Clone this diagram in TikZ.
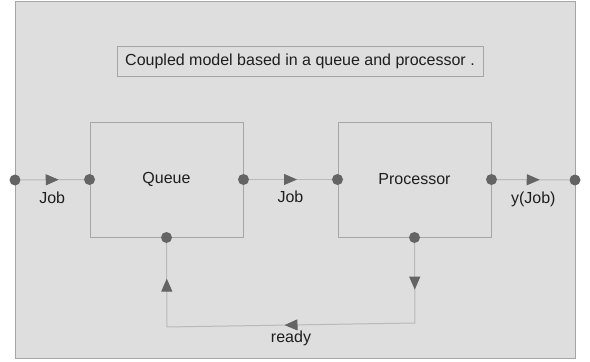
\documentclass[tikz,border=0pt]{standalone}
\usepackage{fontspec}
\setmainfont{Liberation Sans}
\usetikzlibrary{arrows.meta, positioning, decorations.markings}
\definecolor{panelGray}{RGB}{222,222,222}
\definecolor{frameGray}{RGB}{165,165,165}
\definecolor{wireGray}{RGB}{185,185,185}
\definecolor{portGray}{RGB}{100,100,100}
\definecolor{textGray}{RGB}{30,30,30}

\begin{document}
\begin{tikzpicture}[x=1pt,y=-1pt,font=\fontsize{16}{19}\selectfont,text=textGray,
  block/.style={draw=frameGray,line width=1pt,minimum width=153pt,minimum height=115pt,inner sep=0pt},
  port/.style={circle,fill=portGray,inner sep=0pt,minimum size=11pt},
  wire/.style={draw=wireGray,line width=1pt,postaction={decorate},
    decoration={markings,mark=at position 0.5 with
      {\arrow[portGray,xshift=6.5pt]{Triangle[length=13pt,width=11pt]}}}}]
  \useasboundingbox (0,0) rectangle (590,362);
  \fill[white] (0,0) rectangle (590,362);
  \draw[fill=panelGray,draw=frameGray,line width=1pt] (15,1.5) rectangle (575,358);

  % Title
  \node[draw=frameGray,line width=1pt,minimum width=366pt,minimum height=30pt,inner sep=0pt]
    (title) at (300,61) {Coupled model based in a queue and processor .};

  % Blocks
  \node[block] (queue) at (166.5,179.5) {Queue};
  \node[block] (proc) at (414.5,179.5) {Processor};

  % Ports
  \node[port] (inL) at (15,180) {};
  \node[port] (outR) at (575,180) {};
  \node[port] (qin) at (queue.west) {};
  \node[port] (qout) at (queue.east) {};
  \node[port] (pin) at (proc.west) {};
  \node[port] (pout) at (proc.east) {};
  \node[port] (qbot) at (queue.south) {};
  \node[port] (pbot) at (proc.south) {};

  % Job flow
  \draw[wire] (inL) -- node[below=8pt] {Job} (qin);
  \draw[wire] (qout) -- node[below=8pt] {Job} (pin);
  \draw[wire] (pout) -- node[below=8pt] {y(Job)} (outR);

  % ready feedback
  \coordinate (fbR) at (415,323);
  \coordinate (fbL) at (167,327);
  \draw[wire] (pbot) -- (fbR);
  \draw[wire] (fbR) -- node[below=2pt] {ready} (fbL);
  \draw[wire] (fbL) -- (qbot);
\end{tikzpicture}
\end{document}
